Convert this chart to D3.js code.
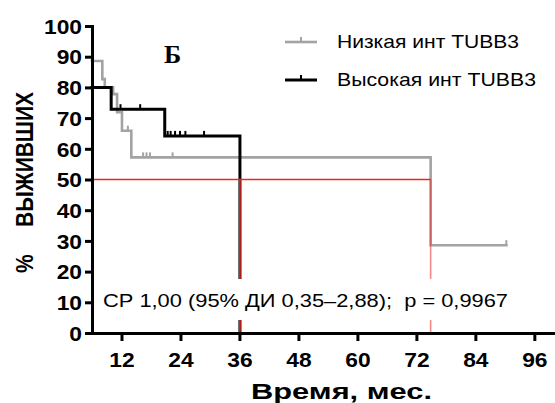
<!DOCTYPE html>
<html>
<head>
<meta charset="utf-8">
<script src="https://cdn.jsdelivr.net/npm/d3@7"></script>
<style>
  body { margin: 0; background: #fff; }
  svg { display: block; }
</style>
</head>
<body>
<script>
// Kaplan–Meier steps: time (months) at which survival (%) takes each value
const lowTimes = [6, 8.1, 8.6, 10.3, 11.1, 12.1, 14.0, 74.9];
const lowSurv  = [88.6, 82.7, 80.0, 77.8, 71.9, 65.9, 57.2, 28.6];
const lowEnd = 90.3;
const lowCensored = [13.3, 16.4, 17.1, 17.8, 22.4, 90.3];

const highTimes = [6, 9.9, 20.8, 36.1];
const highSurv  = [80.0, 72.9, 64.2, 0];
const highEnd = 36.1;
const highCensored = [11.8, 15.8, 21.4, 22.0, 22.9, 23.9, 25.0, 28.8];

const xTicks = [12, 24, 36, 48, 60, 72, 84, 96];
const yTicks = [0, 10, 20, 30, 40, 50, 60, 70, 80, 90, 100];
const seriesNames = ["Низкая инт TUBB3", "Высокая инт TUBB3"];
const seriesColors = ["#a3a3a3", "#000000"];
const statLabel = "СР 1,00 (95% ДИ 0,35–2,88);  p = 0,9967";
const xTitle = "Время, мес.";
const yTitleParts = ["%", "ВЫЖИВШИХ"];
const panelLabel = "Б";
const medianLevel = 50;

const W = 555, H = 403;
const SX = 1.14; // horizontal stretch of the lettering
const FONT = "'Liberation Sans', Arial, sans-serif";

const svg = d3.select("body").append("svg")
  .attr("width", W).attr("height", H)
  .style("background", "#fff");

const x = d3.scaleLinear().domain([6, 100]).range([92, 554]);
const y = d3.scaleLinear().domain([0, 100]).range([333, 26]);

const series = [
  { name: seriesNames[0], times: lowTimes, surv: lowSurv, end: lowEnd, cens: lowCensored, color: seriesColors[0], width: 2.6 },
  { name: seriesNames[1], times: highTimes, surv: highSurv, end: highEnd, cens: highCensored, color: seriesColors[1], width: 3 }
];

function stepPoints(s) {
  const pts = [[s.times[0], s.surv[0]]];
  for (let i = 1; i < s.times.length; i++) {
    pts.push([s.times[i], s.surv[i - 1]]);
    pts.push([s.times[i], s.surv[i]]);
  }
  pts.push([s.end, s.surv[s.surv.length - 1]]);
  return pts;
}
function survAt(s, t) {
  let v = s.surv[0];
  for (let i = 0; i < s.times.length; i++) if (s.times[i] <= t) v = s.surv[i];
  return v;
}
function medianOf(s) {
  for (let i = 0; i < s.times.length; i++) if (s.surv[i] <= medianLevel) return s.times[i];
  return null;
}

const line = d3.line().x(d => x(d[0])).y(d => y(d[1]));

// curves
const curves = svg.append("g");
series.forEach(s => {
  curves.append("path")
    .attr("d", line(stepPoints(s)))
    .attr("fill", "none")
    .attr("stroke", s.color)
    .attr("stroke-width", s.width)
    .attr("stroke-linejoin", "miter")
    .attr("stroke-linecap", "square");
  curves.selectAll(null).data(s.cens).enter().append("line")
    .attr("x1", d => x(d)).attr("x2", d => x(d))
    .attr("y1", d => y(survAt(s, d)))
    .attr("y2", d => y(survAt(s, d)) - 5)
    .attr("stroke", s.color)
    .attr("stroke-width", 2);
});

// median guide lines
const medians = series.map(medianOf).filter(m => m !== null);
const red = "#ea2a22";
svg.append("line")
  .attr("x1", x(6)).attr("x2", x(d3.max(medians)))
  .attr("y1", y(medianLevel)).attr("y2", y(medianLevel))
  .attr("stroke", red).attr("stroke-width", 1.6);
svg.selectAll(null).data(medians).enter().append("line")
  .attr("x1", d => x(d)).attr("x2", d => x(d))
  .attr("y1", y(medianLevel)).attr("y2", y(0))
  .attr("stroke", red).attr("stroke-width", 1.6)
  .attr("stroke-opacity", (d, i) => i === 0 ? 0.55 : 1);

// statistics caption on a white panel
svg.append("rect")
  .attr("x", 99).attr("y", 279).attr("width", 414).attr("height", 41)
  .attr("fill", "#fff");
svg.append("text")
  .attr("x", 103).attr("y", 307)
  .attr("font-family", FONT).attr("font-size", 19)
  .attr("textLength", 405).attr("lengthAdjust", "spacingAndGlyphs")
  .attr("xml:space", "preserve")
  .style("white-space", "pre")
  .text(statLabel);

// axes
const yAxis = d3.axisLeft(y).tickValues(yTicks).tickSize(7).tickSizeOuter(0);
const xAxis = d3.axisBottom(x).tickValues(xTicks).tickSize(8).tickSizeOuter(0);

const gy = svg.append("g").attr("transform", `translate(${x(6)},0)`).call(yAxis);
const gx = svg.append("g").attr("transform", `translate(0,${y(0)})`).call(xAxis);

[gx, gy].forEach(g => {
  g.select(".domain").attr("stroke", "#000").attr("stroke-width", 3).attr("stroke-linecap", "square");
  g.selectAll(".tick line").attr("stroke", "#000").attr("stroke-width", 3);
  g.selectAll(".tick text")
    .attr("font-family", FONT).attr("font-size", 20).attr("font-weight", "bold")
    .attr("fill", "#000");
});
gy.selectAll(".tick text")
  .attr("x", -10 / SX).attr("dy", "0.36em")
  .attr("transform", `scale(${SX},1)`);
gx.selectAll(".tick text")
  .attr("y", 34).attr("dy", 0)
  .attr("transform", `scale(${SX},1)`);

// axis titles
svg.append("text")
  .attr("x", 251).attr("y", 399)
  .attr("font-family", FONT).attr("font-size", 22).attr("font-weight", "bold")
  .attr("textLength", 181).attr("lengthAdjust", "spacingAndGlyphs")
  .text(xTitle);

const yt = svg.append("g").attr("transform", "translate(33,273) rotate(-90) scale(1,1.15)");
yt.append("text")
  .attr("x", 0).attr("y", 0)
  .attr("font-family", FONT).attr("font-size", 21).attr("font-weight", "bold")
  .text(yTitleParts[0]);
yt.append("text")
  .attr("x", 46).attr("y", 0)
  .attr("font-family", FONT).attr("font-size", 21).attr("font-weight", "bold")
  .attr("textLength", 135).attr("lengthAdjust", "spacingAndGlyphs")
  .text(yTitleParts[1]);

// panel letter
svg.append("text")
  .attr("x", 164).attr("y", 63)
  .attr("font-family", "'Liberation Serif', 'Times New Roman', serif")
  .attr("font-size", 26).attr("font-weight", "bold")
  .text(panelLabel);

// legend
const legend = svg.append("g");
const legendRows = [42, 80];
const legendWidths = [182, 199];
series.forEach((s, i) => {
  const ly = legendRows[i];
  legend.append("line")
    .attr("x1", 285).attr("x2", 317).attr("y1", ly).attr("y2", ly)
    .attr("stroke", s.color).attr("stroke-width", s.width);
  legend.append("line")
    .attr("x1", 301).attr("x2", 301).attr("y1", ly).attr("y2", ly - 5)
    .attr("stroke", s.color).attr("stroke-width", 2);
  legend.append("text")
    .attr("x", 337).attr("y", ly + 6)
    .attr("font-family", FONT).attr("font-size", 19)
    .attr("textLength", legendWidths[i]).attr("lengthAdjust", "spacingAndGlyphs")
    .text(s.name);
});
</script>
</body>
</html>
